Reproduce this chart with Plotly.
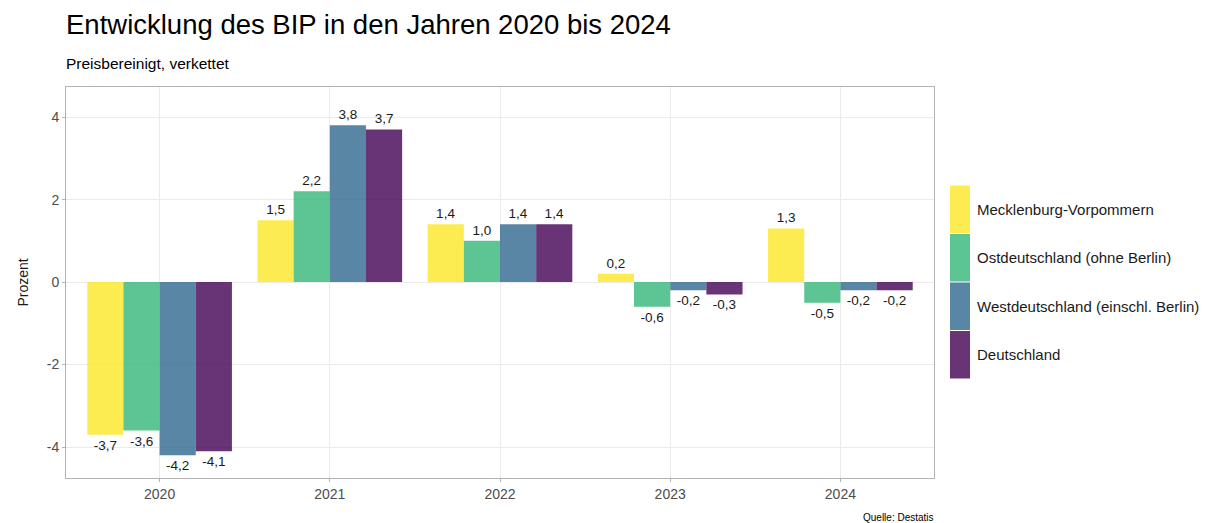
import plotly.graph_objects as go

years = ["2020", "2021", "2022", "2023", "2024"]
series_names = ["Mecklenburg-Vorpommern", "Ostdeutschland (ohne Berlin)",
                "Westdeutschland (einschl. Berlin)", "Deutschland"]
mv = [-3.7, 1.5, 1.4, 0.2, 1.3]
ost = [-3.6, 2.2, 1.0, -0.6, -0.5]
west = [-4.2, 3.8, 1.4, -0.2, -0.2]
de = [-4.1, 3.7, 1.4, -0.3, -0.2]
colors = ["#FDE725", "#35B779", "#31688E", "#440154"]
y_ticks = [-4, -2, 0, 2, 4]
y_tick_labels = ["-4", "-2", "0", "2", "4"]

values = [mv, ost, west, de]
FONT = "Liberation Sans, Arial, sans-serif"

# page body has an 8px margin; work in page pixels and shift
O = 8
W, H = 1211 - O, 523 - O
L, R, T, B = 66, 934, 87, 478

fig = go.Figure()
for name, vals, col in zip(series_names, values, colors):
    fig.add_trace(go.Bar(
        x=years, y=vals, name=name, marker=dict(color=col, opacity=0.8, line=dict(width=0)),
        texttemplate="%{y:.1f}", textposition="outside", cliponaxis=False,
        textfont=dict(size=13.5, color="#1a1a1a", family=FONT), showlegend=False,
    ))

fig.update_layout(
    width=W, height=H, barmode="group", bargap=0.15, bargroupgap=0,
    separators=",.",
    margin=dict(l=L - O, r=1211 - R, t=T - O, b=523 - B, pad=0),
    plot_bgcolor="white", paper_bgcolor="white",
    font=dict(family=FONT, color="#1a1a1a"),
    uniformtext=dict(minsize=13, mode="show"),
    xaxis=dict(range=[-0.55, 4.55], showgrid=True, gridcolor="#ebebeb", gridwidth=1,
               ticks="outside", ticklen=3, tickcolor="#b3b3b3",
               tickfont=dict(size=14, color="#4d4d4d"),
               showline=True, linecolor="#b3b3b3", mirror=True, linewidth=1),
    yaxis=dict(range=[-4.75, 4.73], tickvals=y_ticks, ticktext=y_tick_labels, showgrid=True,
               gridcolor="#ebebeb", gridwidth=1, zeroline=False,
               ticks="outside", ticklen=3, tickcolor="#b3b3b3",
               tickfont=dict(size=14, color="#4d4d4d"),
               showline=True, linecolor="#b3b3b3", mirror=True, linewidth=1,
               title=dict(text="Prozent", font=dict(size=14, color="#1a1a1a"), standoff=14)),
)

def px_x(p):
    return (p - L) / (R - L)

def px_y(p):
    return (B - p) / (B - T)

# Title, subtitle, caption
fig.add_annotation(text="Entwicklung des BIP in den Jahren 2020 bis 2024", xref="paper", yref="paper",
                   x=px_x(64), y=px_y(25), xanchor="left", yanchor="middle", showarrow=False,
                   font=dict(size=27.5, color="#000000", family=FONT))
fig.add_annotation(text="Preisbereinigt, verkettet", xref="paper", yref="paper",
                   x=px_x(64), y=px_y(63), xanchor="left", yanchor="middle", showarrow=False,
                   font=dict(size=15.5, color="#000000", family=FONT))
fig.add_annotation(text="Quelle: Destatis", xref="paper", yref="paper",
                   x=px_x(936), y=px_y(517), xanchor="right", yanchor="middle", showarrow=False,
                   font=dict(size=10, color="#000000", family=FONT))

# Manual legend with tall keys
top = 185
hgt = 48.5
for i, (name, col) in enumerate(zip(series_names, colors)):
    y0 = top + i * hgt
    fig.add_shape(type="rect", xref="paper", yref="paper",
                  x0=px_x(950), x1=px_x(970), y0=px_y(y0 + 0.5), y1=px_y(y0 + hgt - 0.5),
                  fillcolor=col, opacity=0.8, line=dict(width=0))
    fig.add_annotation(text=name, xref="paper", yref="paper",
                       x=px_x(975), y=px_y(y0 + hgt / 2), xanchor="left", yanchor="middle",
                       showarrow=False, font=dict(size=15, color="#1a1a1a", family=FONT))

fig.write_html("out.html")
